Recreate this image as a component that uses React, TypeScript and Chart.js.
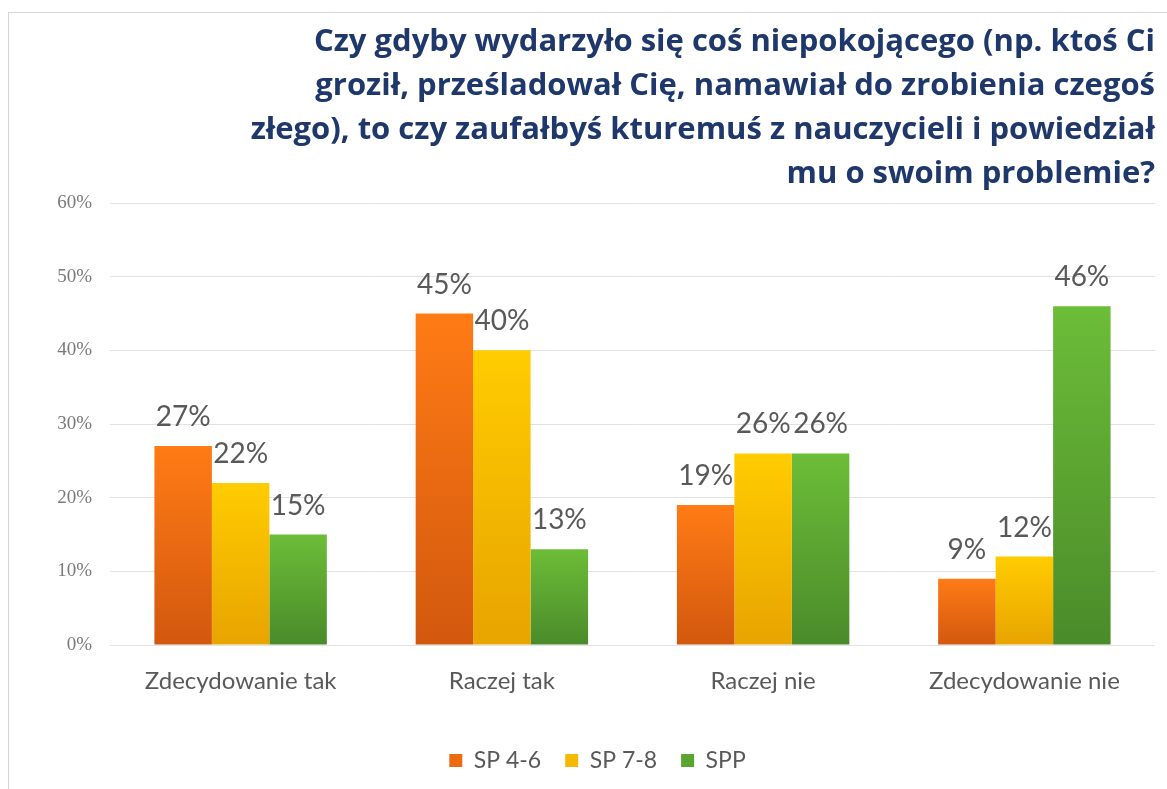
import React, { useEffect, useRef } from "react";
import { Chart, registerables } from "chart.js";

Chart.register(...registerables);

const categories = ["Zdecydowanie tak", "Raczej tak", "Raczej nie", "Zdecydowanie nie"];
const seriesNames = ["SP 4-6", "SP 7-8", "SPP"];
const sp46 = [27, 45, 19, 9];
const sp78 = [22, 40, 26, 12];
const spp = [15, 13, 26, 46];
const yTicks = [0, 10, 20, 30, 40, 50, 60];
const titleLines = [
  "Czy gdyby wydarzyło się coś niepokojącego (np. ktoś Ci",
  "groził, prześladował Cię, namawiał do zrobienia czegoś",
  "złego), to czy zaufałbyś kturemuś z nauczycieli i powiedział",
  "mu o swoim problemie?",
];

const palette = [
  { top: "#FF7B15", bottom: "#D2580E", solid: "#EB6A12" },
  { top: "#FFCC00", bottom: "#E8A400", solid: "#F5BA00" },
  { top: "#6CBD38", bottom: "#4A8B2A", solid: "#5AA532" },
];

const gradientFor = (idx: number) => (ctx: any) => {
  const chart = ctx.chart;
  const c = palette[idx];
  if (!chart.chartArea || ctx.type !== "data" || !chart.scales.y) return c.solid;
  const y = chart.scales.y;
  const top = y.getPixelForValue(ctx.raw);
  const bottom = y.getPixelForValue(0);
  if (!isFinite(top) || !isFinite(bottom) || top === bottom) return c.solid;
  const g = chart.ctx.createLinearGradient(0, top, 0, bottom);
  g.addColorStop(0, c.top);
  g.addColorStop(1, c.bottom);
  return g;
};

const valueLabels = {
  id: "valueLabels",
  afterDatasetsDraw(chart: any) {
    const { ctx } = chart;
    ctx.save();
    ctx.font = "28px Lato";
    ctx.fillStyle = "#595959";
    ctx.textAlign = "center";
    ctx.textBaseline = "middle";
    chart.data.datasets.forEach((ds: any, di: number) => {
      const meta = chart.getDatasetMeta(di);
      meta.data.forEach((el: any, i: number) => {
        ctx.fillText(ds.data[i] + "%", el.x, el.y - 29);
      });
    });
    ctx.restore();
  },
};

export default function App() {
  const ref = useRef<HTMLCanvasElement>(null);
  useEffect(() => {
    if (!ref.current) return;
    const chart = new Chart(ref.current, {
      type: "bar",
      data: {
        labels: categories,
        datasets: [sp46, sp78, spp].map((d, i) => ({
          label: seriesNames[i],
          data: d,
          backgroundColor: gradientFor(i),
          borderWidth: 0,
          barPercentage: 1,
          categoryPercentage: 0.66,
        })),
      },
      options: {
        responsive: false,
        animation: false,
        layout: { padding: { top: 0, right: 12, bottom: 18, left: 40 } },
        plugins: {
          tooltip: { enabled: false },
          title: {
            display: true,
            text: titleLines,
            align: "end",
            color: "#1F386B",
            font: { family: "Open Sans", size: 31, weight: "bold", lineHeight: "44px" },
            padding: { top: 20, bottom: 7 },
          },
          legend: {
            position: "bottom",
            align: "center",
            labels: {
              boxWidth: 13,
              boxHeight: 13,
              padding: 24,
              color: "#595959",
              font: { family: "Lato", size: 23 },
              generateLabels: (chart: any) =>
                chart.data.datasets.map((ds: any, i: number) => ({
                  text: ds.label,
                  fillStyle: palette[i].solid,
                  strokeStyle: palette[i].solid,
                  lineWidth: 0,
                  datasetIndex: i,
                  hidden: false,
                  fontColor: "#595959",
                })),
            },
          },
        },
        scales: {
          x: {
            grid: { display: false },
            border: { display: false },
            ticks: {
              color: "#595959",
              font: { family: "Lato", size: 24 },
              padding: 14,
              maxRotation: 0,
            },
            afterFit: (scale: any) => {
              scale.height = 80;
            },
          },
          y: {
            min: 0,
            max: 60,
            afterBuildTicks: (scale: any) => {
              scale.ticks = yTicks.map((v) => ({ value: v }));
            },
            grid: { color: "#E2E2E2", lineWidth: 1, drawTicks: false },
            border: { display: false },
            ticks: {
              color: "#7A7A7A",
              font: { family: "Liberation Serif", size: 19 },
              padding: 18,
              callback: (v: any) => v + "%",
            },
            afterFit: (scale: any) => {
              scale.width = 70;
            },
          },
        },
      },
      plugins: [valueLabels],
    });
    return () => chart.destroy();
  }, []);

  return (
    <div
      style={{
        position: "fixed",
        left: 0,
        top: 0,
        width: 1167,
        height: 789,
        overflow: "hidden",
        background: "#fff",
      }}
    >
      <div
        style={{
          position: "absolute",
          left: 8,
          top: 12,
          width: 1200,
          height: 800,
          borderLeft: "1px solid #D6D6D6",
          borderTop: "1px solid #D6D6D6",
          pointerEvents: "none",
        }}
      />
      <canvas
        ref={ref}
        width={1167}
        height={800}
        style={{ position: "absolute", left: 0, top: 0, width: 1167, height: 800 }}
      />
    </div>
  );
}
